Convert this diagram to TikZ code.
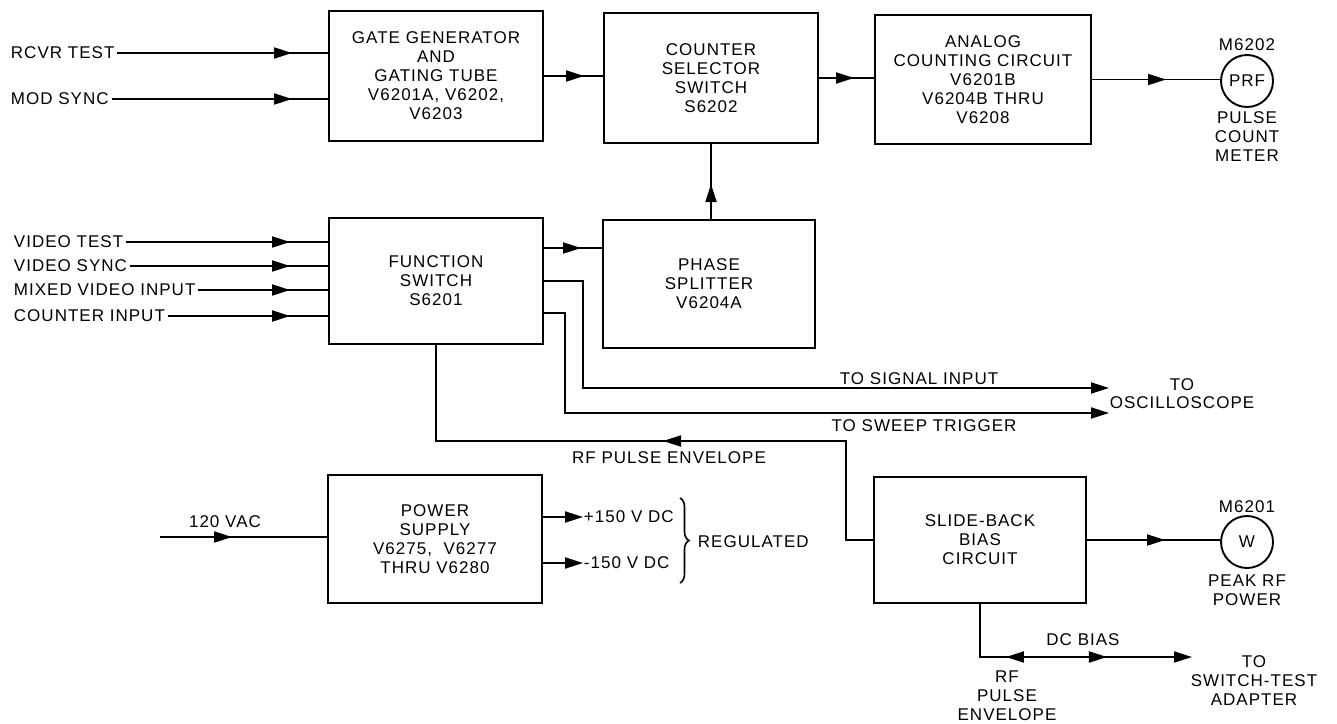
\documentclass[tikz,border=0pt]{standalone}
\usepackage{fontspec}
\setmainfont{Liberation Sans}[LetterSpace=6]
\usetikzlibrary{arrows.meta,decorations.markings,decorations.pathreplacing}
\begin{document}
\begin{tikzpicture}[x=1pt,y=-1pt,line width=1.9pt,
  >={Triangle[length=18pt,width=11pt]},
  lbl/.style={font=\fontsize{17}{19}\selectfont,align=center,inner sep=0pt},
  blk/.style 2 args={draw,lbl,minimum width=#1pt,minimum height=#2pt},
  meter/.style={draw,circle,lbl,minimum size=52pt},
  mid/.style={postaction={decorate,decoration={markings,mark=at position #1 with {\arrow{>}}}}},
  midrev/.style={postaction={decorate,decoration={markings,mark=at position #1 with {\arrowreversed{>}}}}}]
\useasboundingbox (0,0) rectangle (1337,723);

% blocks
\node[blk={214}{130}] (gg) at (436,76) {GATE GENERATOR\\AND\\GATING TUBE\\V6201A, V6202,\\V6203};
\node[blk={214}{130}] (cs) at (711,78) {COUNTER\\SELECTOR\\SWITCH\\S6202};
\node[blk={216}{129}] (ac) at (983,79.5) {ANALOG\\COUNTING CIRCUIT\\V6201B\\V6204B THRU\\V6208};
\node[blk={214}{126}] (fs) at (436,281) {FUNCTION\\SWITCH\\S6201};
\node[blk={212}{128}] (ph) at (709,284) {PHASE\\SPLITTER\\V6204A};
\node[blk={214}{128}] (ps) at (435,539) {POWER\\SUPPLY\\V6275,\ \ V6277\\THRU V6280};
\node[blk={212}{126}] (sb) at (980,540) {SLIDE-BACK\\BIAS\\CIRCUIT};

% meters
\node[meter] (m1) at (1247,81) {PRF};
\node[lbl] (m1t) at (1247,45) {M6202};
\node[lbl] (m1b) at (1247,137) {PULSE\\COUNT\\METER};
\node[meter] (m2) at (1247,542) {W};
\node[lbl] (m2t) at (1247,507) {M6201};
\node[lbl] (m2b) at (1247,590) {PEAK RF\\POWER};

% input labels
\node[lbl,anchor=west] (rcvr) at (10,53) {RCVR TEST};
\node[lbl,anchor=west] (mod) at (10,99) {MOD SYNC};
\node[lbl,anchor=west] (vt) at (13,242) {VIDEO TEST};
\node[lbl,anchor=west] (vs) at (13,266) {VIDEO SYNC};
\node[lbl,anchor=west] (mv) at (13,290) {MIXED VIDEO INPUT};
\node[lbl,anchor=west] (ci) at (13,316) {COUNTER INPUT};

% other labels
\node[lbl] (tsi) at (919,379) {TO SIGNAL INPUT};
\node[lbl] (tst) at (924,426) {TO SWEEP TRIGGER};
\node[lbl,font=\fontsize{17}{18}\selectfont] (osc) at (1182,394) {TO\\OSCILLOSCOPE};
\node[lbl] (rfe) at (669,458) {RF PULSE ENVELOPE};
\node[lbl] (vac) at (225,522) {120 VAC};
\node[lbl,anchor=west] (p150) at (583,517) {+150 V DC};
\node[lbl,anchor=west] (n150) at (583,563) {-150 V DC};
\node[lbl,anchor=west] (reg) at (697,542) {REGULATED};
\node[lbl] (dcb) at (1083,640) {DC BIAS};
\node[lbl] (rfe2) at (1007,696) {RF\\PULSE\\ENVELOPE};
\node[lbl] (tsa) at (1254,681) {TO\\SWITCH-TEST\\ADAPTER};

% free ends
\coordinate (ac120) at (160,537);
\coordinate (sigend) at (1109,388);
\coordinate (swend) at (1109,413);
\coordinate (rfc) at (846,441);
\coordinate (tdend) at (1192,657);

% connectors
\draw[mid=-36pt] ([xshift=2pt]rcvr.east) -- (rcvr.east -| gg.west);
\draw[mid=-36pt] ([xshift=2pt]mod.east) -- (mod.east -| gg.west);
\draw[mid=-19pt] (gg.east) -- (gg.east -| cs.west);
\draw[mid=-20pt] (cs.east) -- (cs.east -| ac.west);
\draw[mid=-54pt] (ac.east) -- (ac.east -| m1.west);
\draw[mid=35pt] (cs.south |- ph.north) -- (cs.south);

\draw[mid=-38pt] ([xshift=2pt]vt.east) -- (vt.east -| fs.west);
\draw[mid=-38pt] ([xshift=2pt]vs.east) -- (vs.east -| fs.west);
\draw[mid=-38pt] ([xshift=2pt]mv.east) -- (mv.east -| fs.west);
\draw[mid=-38pt] ([xshift=2pt]ci.east) -- (ci.east -| fs.west);

\draw[mid=-21pt] ([yshift=33pt]fs.east) -- ([yshift=33pt]fs.east -| ph.west);
\draw[->] (fs.east) -- ++(39,0) |- (sigend);
\draw[->] ([yshift=-32pt]fs.east) -- ++(21,0) |- (swend);
\draw[mid=309pt] (sb.west) -| (rfc) -| (fs.south);

\draw[mid=-95pt] (ac120) -- (ac120 -| ps.west);
\draw[->] ([yshift=22pt]ps.east) -- (p150.west);
\draw[->] ([yshift=-24pt]ps.east) -- (n150.west);
\draw[line width=1.6pt,decorate,decoration={brace,amplitude=9pt}] (680,498) -- (680,583);

\draw[mid=-55pt] (sb.east) -- (sb.east -| m2.west);
\draw[->,midrev=79pt,mid=180pt] (sb.south) |- (tdend);
\end{tikzpicture}
\end{document}
